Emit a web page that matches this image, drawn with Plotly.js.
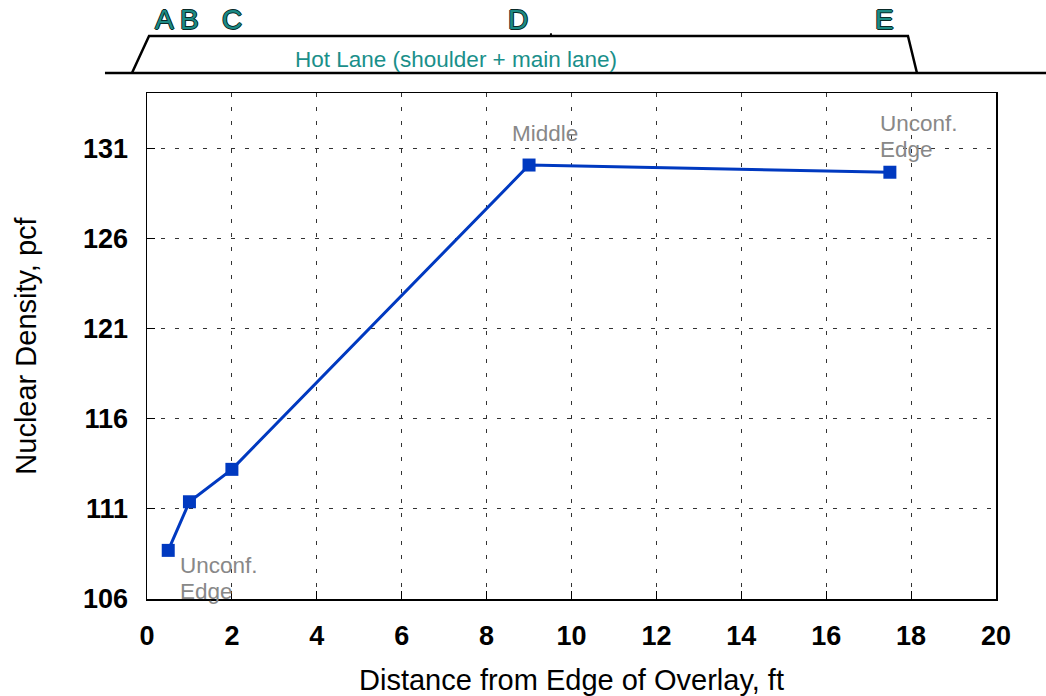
<!DOCTYPE html>
<html>
<head>
<meta charset="utf-8">
<script src="https://cdn.plot.ly/plotly-3.0.1.min.js"></script>
<style>html,body{margin:0;padding:0;background:#fff}#chart{width:1046px;height:696px}</style>
</head>
<body>
<div id="chart"></div>
<script>
// Data
const distanceFt = [0.5, 1, 2, 9, 17.5];
const densityPcf = [108.7, 111.4, 113.2, 130.1, 129.7];
const xTicks = [0, 2, 4, 6, 8, 10, 12, 14, 16, 18, 20];
const yTicks = [106, 111, 116, 121, 126, 131];
const stationLabels = ['A', 'B', 'C', 'D', 'E'];
const stationX = [0.42, 1.0, 2.0, 8.74, 17.38];

const FONT = 'Liberation Sans, Arial, sans-serif';
const teal = '#1a8f8a';
const gray = '#888888';

const trace = {
  x: distanceFt, y: densityPcf, type: 'scatter', mode: 'lines+markers',
  line: {color: '#0039c0', width: 3},
  marker: {symbol: 'square', size: 13, color: '#0039c0'},
  cliponaxis: false, hoverinfo: 'skip'
};

function note(x, y, text, xanchor) {
  return {x: x, y: y, xref: 'x', yref: 'y', xanchor: xanchor, yanchor: 'middle',
    text: text, showarrow: false, font: {family: FONT, size: 22.5, color: gray}};
}

const annotations = [
  note(0.73, 107.84, 'Unconf.', 'left'),
  note(0.73, 106.4, 'Edge', 'left'),
  note(9.38, 131.83, 'Middle', 'center'),
  note(17.22, 132.4, 'Unconf.', 'left'),
  note(17.22, 130.95, 'Edge', 'left'),
  {x: 7.28, y: 1.067, xref: 'x', yref: 'paper', xanchor: 'center', yanchor: 'middle',
   text: 'Hot Lane (shoulder + main lane)', showarrow: false, font: {family: FONT, size: 22.5, color: teal}}
];
stationLabels.forEach((s, i) => {
  annotations.push({
    x: stationX[i], y: 1.146, xref: 'x', yref: 'paper', xanchor: 'center', yanchor: 'middle',
    text: s, showarrow: false,
    font: {family: FONT, size: 28, color: '#1c8a84',
      shadow: '1px 0 0 #0a2a28, -1px 0 0 #0a2a28, 0 1px 0 #0a2a28, 0 -1px 0 #0a2a28'}
  });
});

const shapes = [
  {type: 'line', xref: 'paper', yref: 'paper', x0: -0.0495, x1: 1.06, y0: 1.0395, y1: 1.0395, line: {color: '#000', width: 2.5}},
  {type: 'path', xref: 'paper', yref: 'paper',
   path: 'M -0.0177 1.0395 L 0.0024 1.1126 L 0.8963 1.1126 L 0.9069 1.0395', line: {color: '#000', width: 2.5}},
  {type: 'line', xref: 'paper', yref: 'paper', x0: 0.4758, x1: 0.4758, y0: 1.1126, y1: 1.118, line: {color: '#000', width: 2}}
];

const layout = {
  width: 1046, height: 696,
  margin: {l: 147, r: 50, t: 93, b: 97},
  paper_bgcolor: '#fff', plot_bgcolor: '#fff',
  showlegend: false,
  font: {family: FONT, color: '#000'},
  xaxis: {
    range: [0, 20], tickvals: xTicks, ticktext: xTicks.map(String),
    showgrid: true, gridcolor: '#333', gridwidth: 1, griddash: '4px,10px',
    zeroline: false, showline: true, linecolor: '#000', linewidth: 1.5, mirror: true,
    ticks: 'inside', ticklen: 8, tickcolor: '#000', ticklabelstandoff: 12,
    tickfont: {family: FONT, size: 27, color: '#000', weight: 'bold'},
    title: {text: 'Distance from Edge of Overlay, ft', font: {family: FONT, size: 29, color: '#000'}, standoff: 21}
  },
  yaxis: {
    range: [106, 134.1], tickvals: yTicks, ticktext: yTicks.map(String),
    showgrid: true, gridcolor: '#333', gridwidth: 1, griddash: '4px,10px',
    zeroline: false, showline: true, linecolor: '#000', linewidth: 1.5, mirror: true,
    ticks: 'inside', ticklen: 8, tickcolor: '#000', ticklabelstandoff: 12,
    tickfont: {family: FONT, size: 27, color: '#000', weight: 'bold'},
    title: {text: 'Nuclear Density, pcf', font: {family: FONT, size: 29, color: '#000'}, standoff: 38}
  },
  annotations: annotations,
  shapes: shapes
};

Plotly.newPlot('chart', [trace], layout, {displayModeBar: false, staticPlot: true});
</script>
</body>
</html>
